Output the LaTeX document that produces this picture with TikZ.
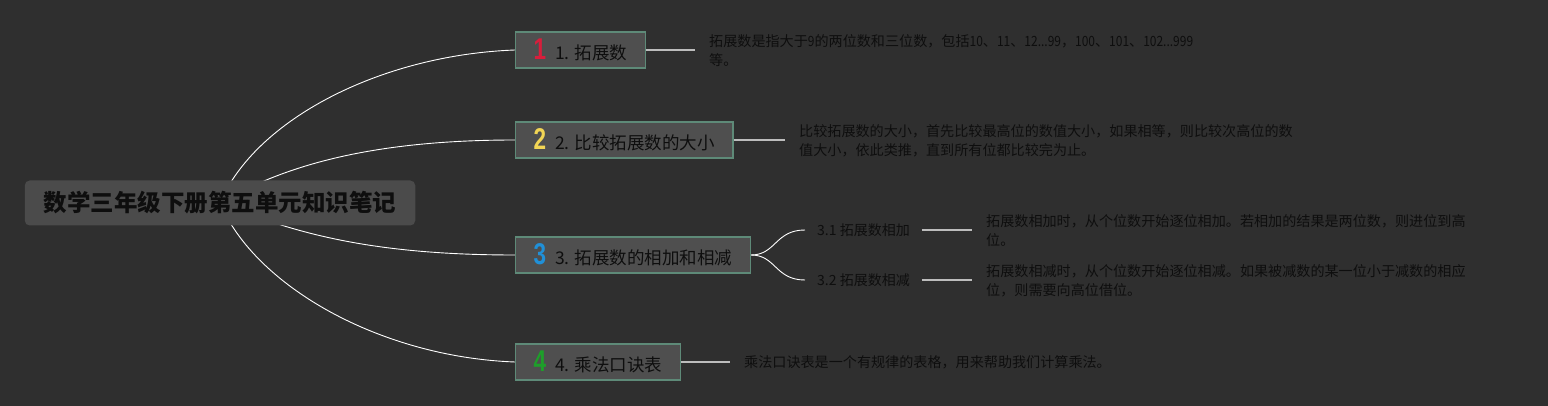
\documentclass[tikz,border=0pt]{standalone}
\usepackage{fontspec}
\usepackage{graphicx}
\setmainfont{Noto Sans CJK SC}
\newfontfamily\numfont{Liberation Sans}
\usepackage{tikz}
\usetikzlibrary{backgrounds}

\definecolor{bgdark}{HTML}{2F2F2F}
\definecolor{rootfill}{HTML}{4B4B4B}
\definecolor{topicfill}{HTML}{4F4F4F}
\definecolor{topicedge}{HTML}{5E8A78}
\definecolor{inkdark}{HTML}{0E0E0E}
\definecolor{leafline}{HTML}{BDBDBD}
\definecolor{numred}{HTML}{D81E3C}
\definecolor{numyellow}{HTML}{F2D555}
\definecolor{numblue}{HTML}{2090D8}
\definecolor{numgreen}{HTML}{1E9E2A}

\newcommand{\topicnum}[2]{{\numfont\bfseries\fontsize{30}{30}\selectfont\color{#1}\scalebox{0.75}[1]{#2}}\hspace{9pt}}
\newcommand{\narrowtxt}[1]{\scalebox{0.85}[1]{#1}}

\begin{document}
\begin{tikzpicture}[x=1pt, y=-1pt,
  root/.style={fill=rootfill, rounded corners=5pt, minimum height=45pt, inner xsep=19pt,
    text=inkdark, font=\fontsize{23.5}{26}\selectfont\bfseries},
  topic/.style={fill=topicfill, draw=topicedge, line width=1.2pt, anchor=west, minimum height=36pt,
    inner xsep=18pt, inner ysep=0pt, text=inkdark, font=\fontsize{17.5}{20}\selectfont},
  subtopic/.style={anchor=west, inner xsep=12pt, text=inkdark, font=\fontsize{14}{17}\selectfont},
  detail/.style={anchor=west, inner xsep=14pt, inner ysep=0pt, align=left, text=inkdark,
    font=\fontsize{14.1}{19}\selectfont},
  branch/.style={white, line width=0.9pt},
  leaf/.style={leafline, line width=1.5pt}]

\node[root] (root) at (220,203) {数学三年级下册第五单元知识笔记};

\node[topic] (t1) at (515,50) {\topicnum{numred}{1}1. 拓展数};
\node[topic] (t2) at (515,140) {\topicnum{numyellow}{2}2. 比较拓展数的大小};
\node[topic] (t3) at (515,255) {\topicnum{numblue}{3}3. 拓展数的相加和相减};
\node[topic] (t4) at (515,362) {\topicnum{numgreen}{4}4. 乘法口诀表};

\node[subtopic] (s1) at (805,230) {3.1 拓展数相加};
\node[subtopic] (s2) at (805,280) {3.2 拓展数相减};

\node[detail] (d1) at (695,51) {拓展数是指大于\narrowtxt{9}的两位数和三位数，包括\narrowtxt{10}、\narrowtxt{11}、\narrowtxt{12...99}，\narrowtxt{100}、\narrowtxt{101}、\narrowtxt{102...999}\\等。};
\node[detail] (d2) at (785,141) {比较拓展数的大小，首先比较最高位的数值大小，如果相等，则比较次高位的数\\值大小，依此类推，直到所有位都比较完为止。};
\node[detail] (d31) at (972,231) {拓展数相加时，从个位数开始逐位相加。若相加的结果是两位数，则进位到高\\位。};
\node[detail] (d32) at (972,281) {拓展数相减时，从个位数开始逐位相减。如果被减数的某一位小于减数的相应\\位，则需要向高位借位。};
\node[detail] (d4) at (730,362) {乘法口诀表是一个有规律的表格，用来帮助我们计算乘法。};

\draw[leaf] (t1.east) -- (t1.east -| d1.west);
\draw[leaf] (t2.east) -- (t2.east -| d2.west);
\draw[leaf] (s1.east) -- (s1.east -| d31.west);
\draw[leaf] (s2.east) -- (s2.east -| d32.west);
\draw[leaf] (t4.east) -- (t4.east -| d4.west);

\draw[branch] (t3.east) .. controls +(25,0) and +(-30,0) .. (s1.west);
\draw[branch] (t3.east) .. controls +(25,0) and +(-30,0) .. (s2.west);

\begin{pgfonlayer}{background}
\fill[bgdark] (0,0) rectangle (1548,406);
\draw[branch] (root.center) .. controls +(35,-83) and +(-135,5) .. (t1.west);
\draw[branch] (root.center) .. controls +(60,-35) and +(-150,0) .. (t2.west);
\draw[branch] (root.center) .. controls +(70,28) and +(-150,0) .. (t3.west);
\draw[branch] (root.center) .. controls +(35,83) and +(-135,-5) .. (t4.west);
\end{pgfonlayer}
\end{tikzpicture}
\end{document}
